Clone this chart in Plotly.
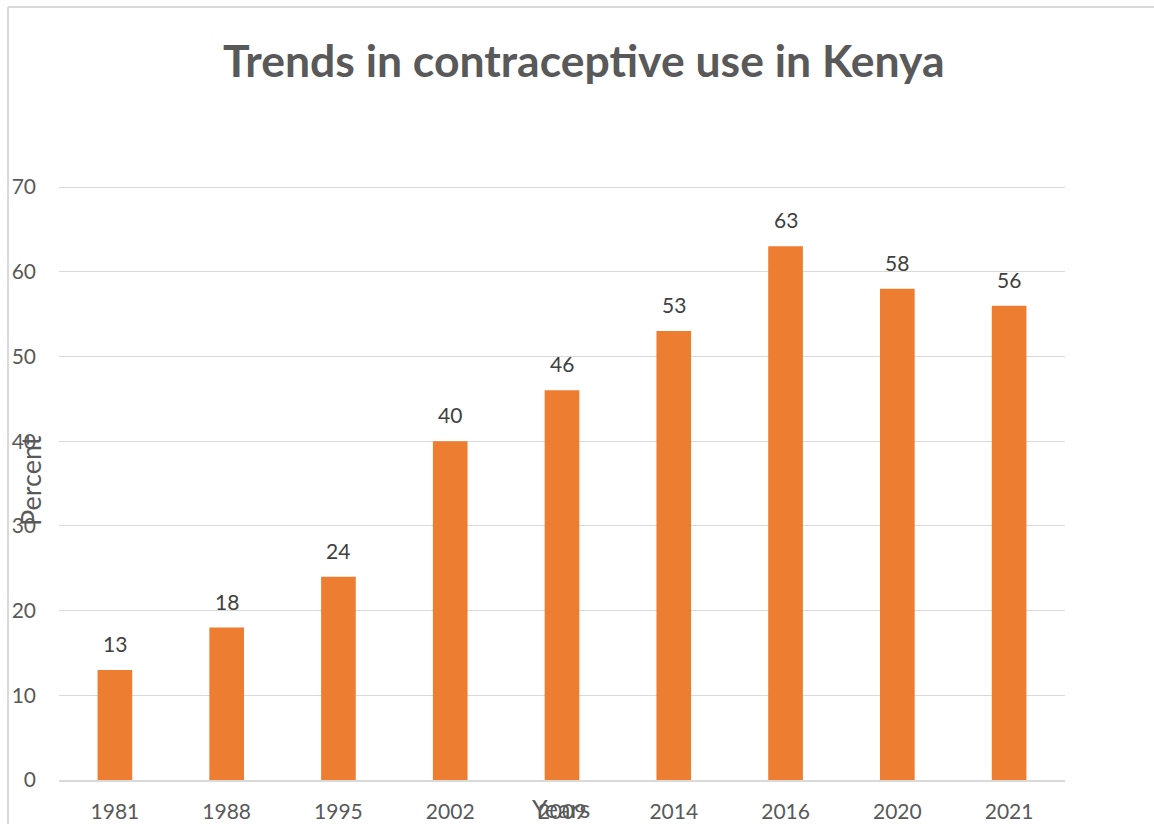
import plotly.graph_objects as go

years = ["1981", "1988", "1995", "2002", "2009", "2014", "2016", "2020", "2021"]
percent = [13, 18, 24, 40, 46, 53, 63, 58, 56]
y_ticks = [0, 10, 20, 30, 40, 50, 60, 70]

title_text = "Trends in contraceptive use in Kenya"
x_title = "Years"
y_title = "Percent"

FONT = "Lato"
GRAY = "#595959"
ORANGE = "#ED7D31"
GRID = "#D9D9D9"

W, H = 1154, 824
L, R, T, B = 59, 1154 - 1065, 185, 824 - 780
pw, ph = W - L - R, H - T - B
Y_MAX = 70.24

fig = go.Figure()
fig.add_trace(go.Bar(
    x=years, y=percent, marker_color=ORANGE, marker_line_width=0,
    width=0.31, hoverinfo="x+y",
))

annotations = []
for i, v in enumerate(percent):
    annotations.append(dict(x=i, y=v, xref="x", yref="y", text=str(v),
                            showarrow=False, yanchor="bottom", yshift=12,
                            font=dict(family=FONT, size=21, color="#404040")))

def px_x(p):
    return (p - L) / pw

def px_y(p):
    return 1 - (p - T) / ph

annotations.append(dict(x=px_x(584), y=px_y(59), xref="paper", yref="paper",
                        text="<b>" + title_text + "</b>", showarrow=False,
                        xanchor="center", yanchor="middle",
                        font=dict(family=FONT, size=44.5, color=GRAY)))
annotations.append(dict(x=px_x(561), y=px_y(808), xref="paper", yref="paper",
                        text=x_title, showarrow=False, xanchor="center", yanchor="middle",
                        font=dict(family=FONT, size=25, color=GRAY)))
annotations.append(dict(x=px_x(30), y=px_y(481), xref="paper", yref="paper",
                        text=y_title, showarrow=False, xanchor="center", yanchor="middle",
                        textangle=-90,
                        font=dict(family=FONT, size=27, color=GRAY)))

shapes = [
    dict(type="line", xref="paper", yref="paper", x0=px_x(8), x1=px_x(8),
         y0=px_y(7), y1=px_y(830), line=dict(color=GRID, width=2)),
    dict(type="line", xref="paper", yref="paper", x0=px_x(8), x1=px_x(1160),
         y0=px_y(7), y1=px_y(7), line=dict(color=GRID, width=2)),
]

fig.update_layout(
    width=W, height=H,
    margin=dict(l=L, r=R, t=T, b=B, pad=0, autoexpand=False),
    paper_bgcolor="white", plot_bgcolor="white",
    showlegend=False,
    annotations=annotations, shapes=shapes,
    font=dict(family=FONT, size=21, color=GRAY),
    xaxis=dict(type="category", range=[-0.5, len(years) - 0.5],
               showgrid=False, showline=True, linecolor=GRID,
               linewidth=1.5, ticks="", automargin=False,
               tickfont=dict(family=FONT, size=21, color=GRAY),
               ticklabelstandoff=12),
    yaxis=dict(range=[0, Y_MAX], tickvals=y_ticks, showgrid=True, gridcolor=GRID,
               gridwidth=1.3, zeroline=False, showline=False, ticks="",
               automargin=False,
               tickfont=dict(family=FONT, size=21, color=GRAY),
               ticklabelstandoff=22),
)

fig.write_html("out.html", config={"displayModeBar": False},
               post_script="document.body.style.margin='0px';document.body.style.overflow='hidden';")
